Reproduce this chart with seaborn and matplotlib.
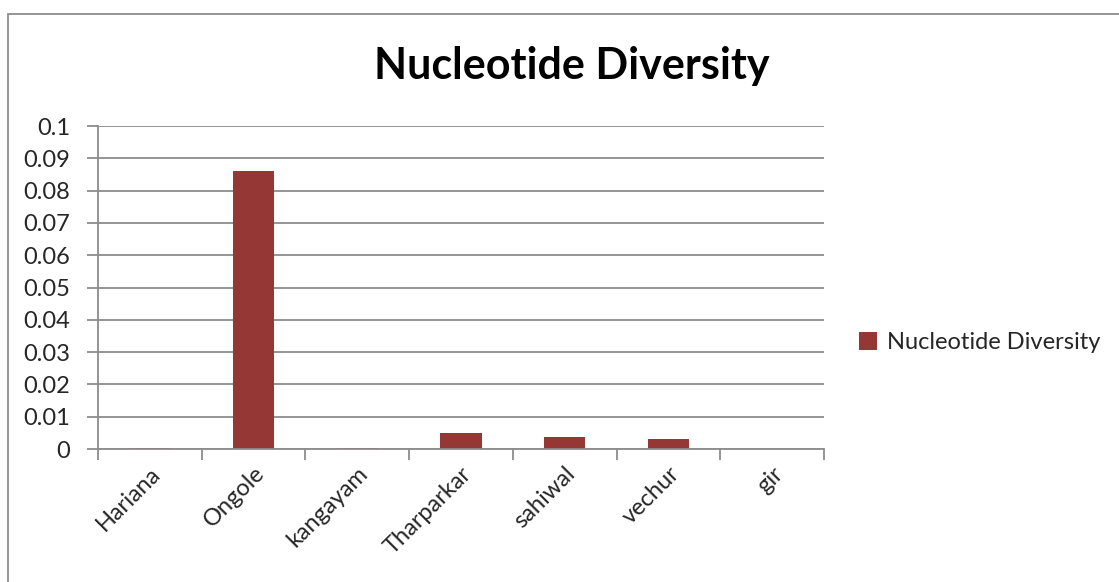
import matplotlib
matplotlib.use("Agg")
import matplotlib.pyplot as plt
import seaborn as sns
import pandas as pd
from matplotlib.patches import Rectangle, Patch

breeds = ["Hariana", "Ongole", "kangayam", "Tharparkar", "sahiwal", "vechur", "gir"]
diversity = [0.0003, 0.086, 0.0003, 0.005, 0.0038, 0.0031, 0.0]
series_name = "Nucleotide Diversity"
y_ticks = [0, 0.01, 0.02, 0.03, 0.04, 0.05, 0.06, 0.07, 0.08, 0.09, 0.1]
y_tick_labels = ["0", "0.01", "0.02", "0.03", "0.04", "0.05", "0.06", "0.07", "0.08", "0.09", "0.1"]

sns.set_style("white")
plt.rcParams["font.family"] = ["Lato", "DejaVu Sans"]

grid_color = "#8c8c8c"
bar_color = "#953735"
label_size = 17

df = pd.DataFrame({"breed": breeds, "value": diversity})

fig = plt.figure(figsize=(11.19, 5.82), dpi=100)
ax = fig.add_axes([0.0876, 0.2285, 0.6488, 0.555])

sns.barplot(data=df, x="breed", y="value", color=bar_color, width=0.4,
            saturation=1, ax=ax, edgecolor="none")

ax.set_xlim(-0.5, len(breeds) - 0.5)
ax.set_ylim(0, 0.1)
ax.set_yticks(y_ticks)
ax.set_yticklabels(y_tick_labels)
ax.yaxis.grid(True, color=grid_color, linewidth=1.3)
ax.set_axisbelow(True)

# category ticks sit on the boundaries between groups
ax.set_xticks([i - 0.5 for i in range(len(breeds) + 1)], minor=True)
ax.set_xticks(range(len(breeds)))
ax.set_xticklabels(breeds, rotation=45, ha="right", rotation_mode="anchor", fontsize=label_size)
ax.tick_params(axis="x", which="major", bottom=True, length=0, pad=10)
ax.tick_params(axis="x", which="minor", bottom=True, length=8, width=1.3,
               color=grid_color, direction="out")
ax.tick_params(axis="y", left=True, length=8, width=1.3, color=grid_color,
               labelsize=label_size, pad=12)

for side in ["top", "right"]:
    ax.spines[side].set_visible(False)
for side in ["left", "bottom"]:
    ax.spines[side].set_color(grid_color)
    ax.spines[side].set_linewidth(1.3)
ax.set_xlabel("")
ax.set_ylabel("")

fig.text(0.511, 0.887, series_name, ha="center", va="center",
         fontsize=31, fontweight="bold", color="black")

handle = Patch(facecolor=bar_color, edgecolor="none")
fig.legend([handle], [series_name], loc="center left",
           bbox_to_anchor=(0.768, 0.411), frameon=False, fontsize=label_size,
           handlelength=0.75, handleheight=0.75, handletextpad=0.4,
           borderaxespad=0, borderpad=0)

# outer chart frame
fig.patches.append(Rectangle((8 / 1119, -0.05), 1.2, 1 - 14 / 582 + 0.05,
                             transform=fig.transFigure, fill=False,
                             edgecolor="#8c8c8c", linewidth=1.3))

fig.savefig("out.png", dpi=100)
